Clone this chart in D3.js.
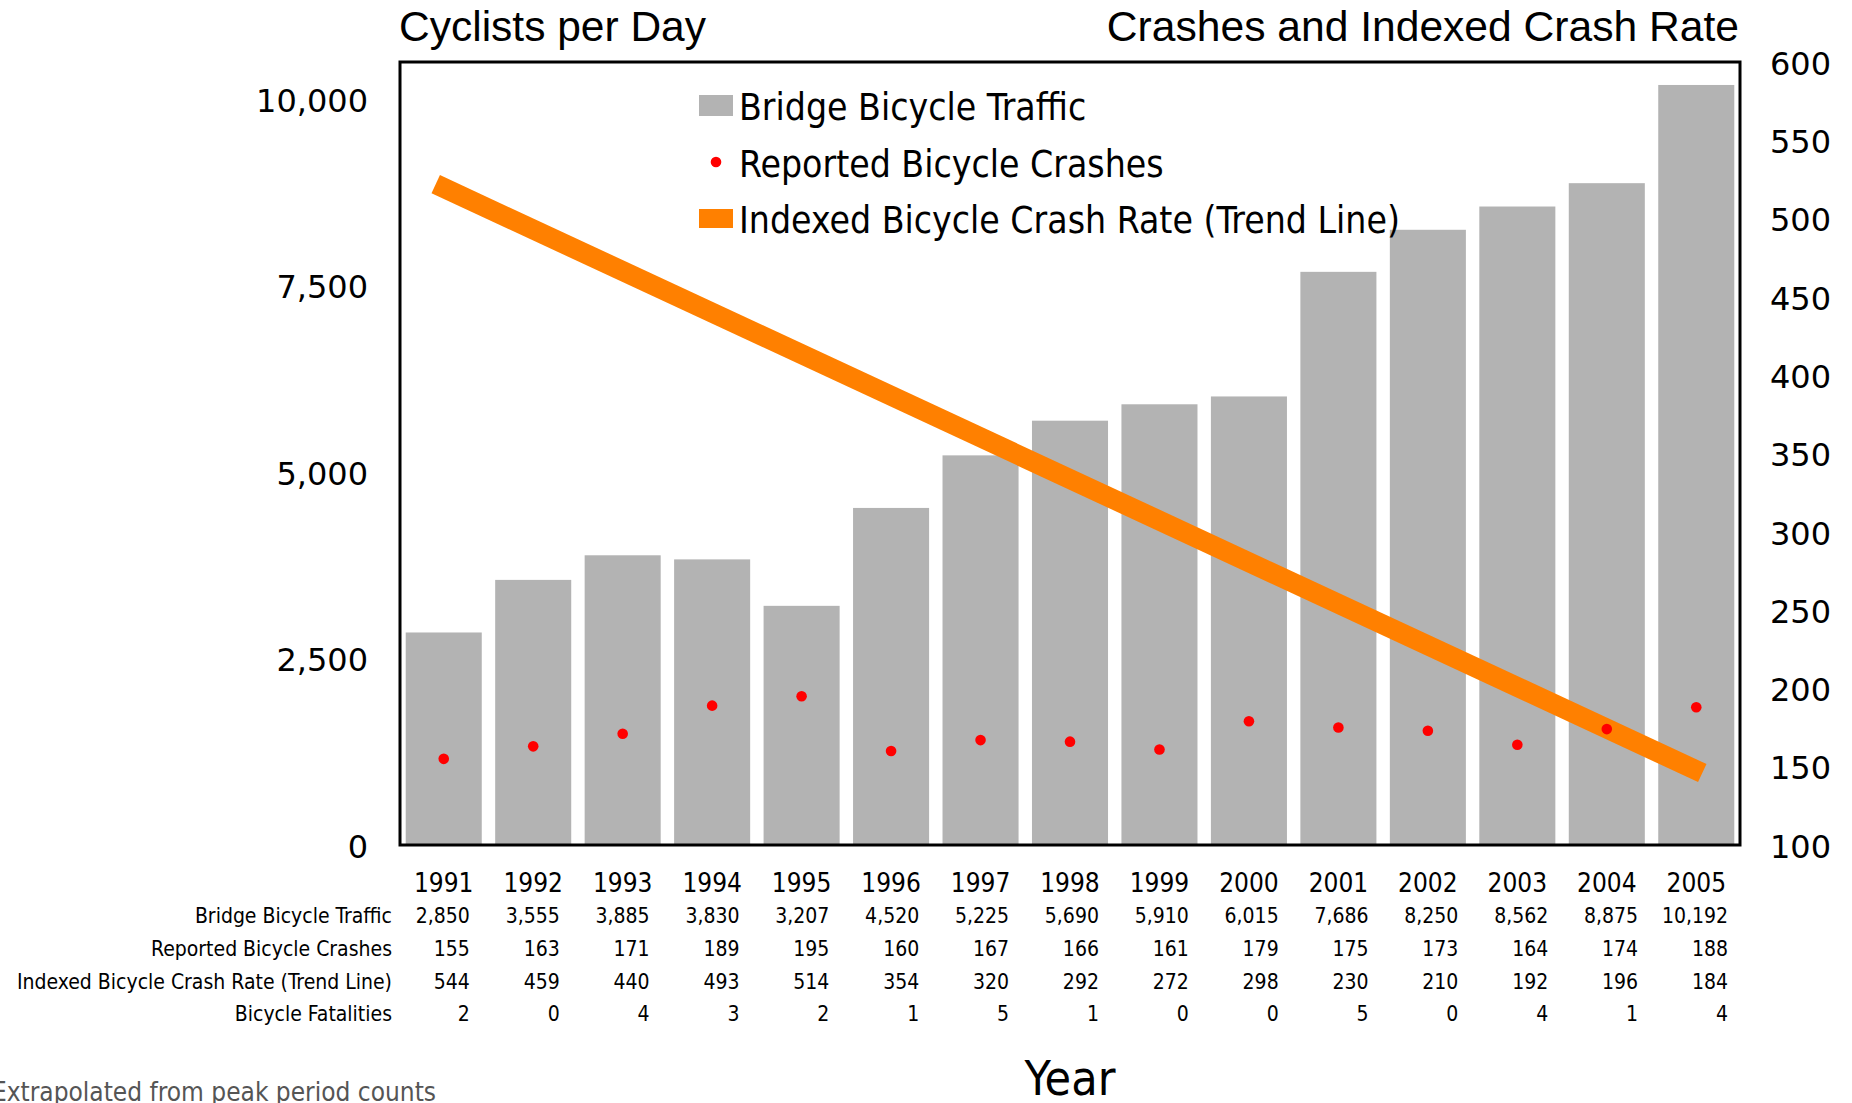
<!DOCTYPE html>
<html>
<head>
<meta charset="utf-8">
<script src="https://cdn.jsdelivr.net/npm/d3@7"></script>
<style>
  body { margin: 0; background: #fff; }
  svg { display: block; }
  .cond { font-family: "DejaVu Sans Condensed", "DejaVu Sans", sans-serif; font-stretch: condensed; }
</style>
</head>
<body>
<div class="vis-chart"></div>
<script>
const years = ['1991', '1992', '1993', '1994', '1995', '1996', '1997', '1998', '1999', '2000', '2001', '2002', '2003', '2004', '2005'];
const traffic = [2850, 3555, 3885, 3830, 3207, 4520, 5225, 5690, 5910, 6015, 7686, 8250, 8562, 8875, 10192];
const crashes = [155, 163, 171, 189, 195, 160, 167, 166, 161, 179, 175, 173, 164, 174, 188];
const indexedRate = [544, 459, 440, 493, 514, 354, 320, 292, 272, 298, 230, 210, 192, 196, 184];
const fatalities = [2, 0, 4, 3, 2, 1, 5, 1, 0, 0, 5, 0, 4, 1, 4];
// trend line end points (1991, 2005)
const trendYears = ['1991', '2005'];
const trendValues = [522, 146];
const leftTicks = [0, 2500, 5000, 7500, 10000];
const rightTicks = [100, 150, 200, 250, 300, 350, 400, 450, 500, 550, 600];
const rowLabels = ['Bridge Bicycle Traffic', 'Reported Bicycle Crashes', 'Indexed Bicycle Crash Rate (Trend Line)', 'Bicycle Fatalities'];
const legendLabels = ['Bridge Bicycle Traffic', 'Reported Bicycle Crashes', 'Indexed Bicycle Crash Rate (Trend Line)'];

const W = 1852, H = 1103;
const box = {left: 400, right: 1740, top: 62, bottom: 845};

const svg = d3.select('.vis-chart').append('svg')
    .attr('width', W)
    .attr('height', H);

let x = d3.scaleBand()
    .domain(years)
    .range([box.left - 1, box.right + 1])
    .paddingInner(0.15)
    .paddingOuter(0.075);
// data table cells run a little wider than the plot
let xTable = d3.scaleBand()
    .domain(years)
    .range([392, 1740]);
let yLeft = d3.scaleLinear()
    .domain([0, 10500])
    .range([box.bottom, box.top]);
let yRight = d3.scaleLinear()
    .domain([100, 600])
    .range([box.bottom, box.top]);

// bars
svg.append('g').selectAll('rect')
    .data(years)
    .enter().append('rect')
    .attr('x', d => x(d))
    .attr('width', x.bandwidth())
    .attr('y', (d, i) => yLeft(traffic[i]))
    .attr('height', (d, i) => box.bottom - yLeft(traffic[i]))
    .attr('fill', '#b3b3b3');

// trend line
svg.append('line')
    .attr('x1', x(trendYears[0]) + x.bandwidth() / 2 - 8)
    .attr('y1', yRight(trendValues[0]))
    .attr('x2', x(trendYears[1]) + x.bandwidth() / 2 + 6)
    .attr('y2', yRight(trendValues[1]))
    .attr('stroke', '#ff8000')
    .attr('stroke-width', 20);

// crash dots
svg.append('g').selectAll('circle')
    .data(years)
    .enter().append('circle')
    .attr('cx', d => x(d) + x.bandwidth() / 2)
    .attr('cy', (d, i) => yRight(crashes[i]))
    .attr('r', 5.3)
    .attr('fill', '#ff0000');

// frame
svg.append('rect')
    .attr('x', box.left)
    .attr('y', box.top)
    .attr('width', box.right - box.left)
    .attr('height', box.bottom - box.top)
    .attr('fill', 'none')
    .attr('stroke', '#000')
    .attr('stroke-width', 3);

// axes
const gl = svg.append('g')
    .attr('transform', 'translate(' + box.left + ',2)')
    .call(d3.axisLeft(yLeft).tickValues(leftTicks).tickSize(0).tickPadding(32).tickFormat(d3.format(',')));
const gr = svg.append('g')
    .attr('transform', 'translate(' + box.right + ',2)')
    .call(d3.axisRight(yRight).tickValues(rightTicks).tickSize(0).tickPadding(30));
[gl, gr].forEach(g => {
    g.select('.domain').remove();
    g.selectAll('text')
        .attr('font-family', '"DejaVu Sans", sans-serif')
        .attr('font-size', 32)
        .attr('fill', '#000');
});

// titles
svg.append('text')
    .attr('x', box.left - 1)
    .attr('y', 41)
    .attr('font-family', '"Liberation Sans", Arial, sans-serif')
    .attr('font-size', 42.5)
    .text('Cyclists per Day');
svg.append('text')
    .attr('x', box.right - 1)
    .attr('y', 41)
    .attr('text-anchor', 'end')
    .attr('font-family', '"Liberation Sans", Arial, sans-serif')
    .attr('font-size', 42.6)
    .text('Crashes and Indexed Crash Rate');

// legend
const legend = svg.append('g').attr('class', 'cond');
legend.append('rect').attr('x', 699).attr('y', 95).attr('width', 34).attr('height', 21).attr('fill', '#b3b3b3');
legend.append('circle').attr('cx', 716).attr('cy', 162).attr('r', 5.3).attr('fill', '#ff0000');
legend.append('rect').attr('x', 699).attr('y', 209).attr('width', 34).attr('height', 19).attr('fill', '#ff8000');
legend.selectAll('text')
    .data(legendLabels)
    .enter().append('text')
    .attr('x', 739)
    .attr('y', (d, i) => 120 + i * 56.5)
    .attr('font-size', 37)
    .text(d => d);

// data table
const table = svg.append('g').attr('class', 'cond');
table.selectAll('.yr')
    .data(years)
    .enter().append('text')
    .attr('class', 'yr')
    .attr('x', d => x(d) + x.bandwidth() / 2)
    .attr('y', 892)
    .attr('text-anchor', 'middle')
    .attr('font-size', 26)
    .text(d => d);

const rows = [traffic.map(d3.format(',')), crashes, indexedRate, fatalities];
rows.forEach((row, r) => {
    const yy = 923 + r * 32.8;
    table.append('text')
        .attr('x', 392)
        .attr('y', yy)
        .attr('text-anchor', 'end')
        .attr('font-size', 21)
        .text(rowLabels[r]);
    table.selectAll('.r' + r)
        .data(row)
        .enter().append('text')
        .attr('class', 'r' + r)
        .attr('x', (d, i) => xTable(years[i]) + xTable.bandwidth() - 12)
        .attr('y', yy)
        .attr('text-anchor', 'end')
        .attr('font-size', 21)
        .text(d => d);
});

// x title and footnote
svg.append('text')
    .attr('class', 'cond')
    .attr('x', (box.left + box.right) / 2)
    .attr('y', 1095)
    .attr('text-anchor', 'middle')
    .attr('font-size', 48)
    .text('Year');
svg.append('text')
    .attr('class', 'cond')
    .attr('x', 436)
    .attr('y', 1101)
    .attr('text-anchor', 'end')
    .attr('font-size', 26)
    .attr('fill', '#555')
    .text('Extrapolated from peak period counts');
</script>
</body>
</html>
